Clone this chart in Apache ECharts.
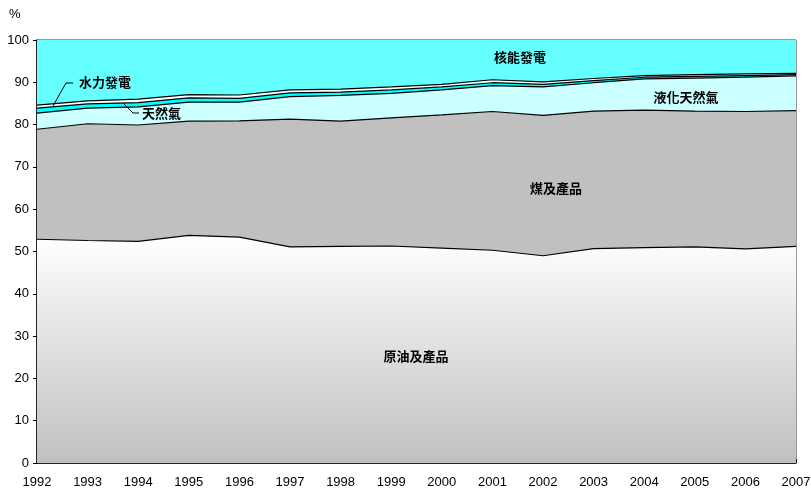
<!DOCTYPE html>
<html><head><meta charset="utf-8">
<script src="https://cdn.jsdelivr.net/npm/echarts@6/dist/echarts.min.js"></script>
<style>html,body{margin:0;padding:0;background:#fff}#c{width:811px;height:488px}</style>
</head><body><div id="c"></div>
<script>
var years = ['1992','1993','1994','1995','1996','1997','1998','1999','2000','2001','2002','2003','2004','2005','2006','2007'];
var oil     = [52.9,52.6,52.4,53.8,53.4,51.1,51.2,51.3,50.8,50.3,49.0,50.7,50.9,51.1,50.6,51.2];
var coal    = [26.0,27.6,27.5,27.0,27.5,30.2,29.6,30.3,31.5,32.8,33.2,32.5,32.5,32.1,32.5,32.1];
var lng     = [3.8,3.7,4.3,4.5,4.4,5.3,6.1,5.8,5.9,6.1,6.7,6.7,7.4,7.8,8.1,8.2];
var gas     = [1.2,1.0,1.0,1.0,0.9,0.9,0.8,0.8,0.7,0.7,0.6,0.5,0.4,0.4,0.4,0.3];
var hydro   = [0.7,0.7,0.8,0.8,0.8,0.7,0.7,0.7,0.6,0.7,0.6,0.5,0.4,0.4,0.4,0.3];
var nuclear = [15.4,14.4,14.0,12.9,13.0,11.8,11.6,11.1,10.5,9.4,9.9,9.1,8.4,8.2,8.0,7.9];
var yTicks = [0,10,20,30,40,50,60,70,80,90,100];

var FONT = '"Liberation Sans", Arial, sans-serif';
var CJK = '"Noto Sans CJK TC", sans-serif';
var chart = echarts.init(document.getElementById('c'), null, {renderer:'canvas'});

function areaSeries(name, data, fill, lw){
  return {
    name: name, type: 'line', stack: 'total', data: data,
    symbol: 'none', smooth: false,
    lineStyle: {color: '#000', width: lw},
    areaStyle: {color: fill, opacity: 1},
    emphasis: {disabled: true}, z: 2
  };
}
var option = {
  animation: false,
  grid: {left: 37, right: 15, top: 40, bottom: 25, show: true, borderColor: '#333', borderWidth: 1,
    containLabel: false, outerBoundsMode: 'none'},
  xAxis: {
    type: 'category', data: years, boundaryGap: false,
    axisLine: {lineStyle: {color: '#000', width: 1.5}},
    axisTick: {inside: true, length: 4, lineStyle: {color: '#000'}},
    axisLabel: {color: '#000', fontFamily: FONT, fontSize: 13, margin: 13, interval: 0},
    splitLine: {show: false}
  },
  yAxis: {
    type: 'value', min: 0, max: 100, interval: 10,
    axisLine: {show: true, lineStyle: {color: '#000', width: 1.5}},
    axisTick: {show: true, length: 4, lineStyle: {color: '#000'}},
    axisLabel: {color: '#000', fontFamily: FONT, fontSize: 13, margin: 8,
      formatter: function(v){ return yTicks.indexOf(v) >= 0 ? String(v) : ''; }},
    splitLine: {show: false}
  },
  series: [
    areaSeries('原油及產品', oil, {type:'linear', x:0, y:0, x2:0, y2:1,
      colorStops:[{offset:0,color:'#ffffff'},{offset:1,color:'#c0c0c0'}]}, 1.2),
    areaSeries('煤及產品', coal, '#c0c0c0', 1.2),
    areaSeries('液化天然氣', lng, '#ccffff', 1.2),
    areaSeries('天然氣', gas, '#00ffff', 1.2),
    areaSeries('水力發電', hydro, '#ffffff', 1.2),
    areaSeries('核能發電', nuclear, '#66ffff', 0)
  ],
  graphic: [
    {type:'text', left: 9, top: 8, style:{text:'%', fill:'#000', font:'13px ' + FONT}},
    {type:'text', x: 520, y: 57, style:{text:'核能發電', fill:'#000', font:'bold 13px ' + CJK, textAlign:'center', textVerticalAlign:'middle'}, z: 10},
    {type:'text', x: 686, y: 97, style:{text:'液化天然氣', fill:'#000', font:'bold 13px ' + CJK, textAlign:'center', textVerticalAlign:'middle'}, z: 10},
    {type:'text', x: 556, y: 188, style:{text:'煤及產品', fill:'#000', font:'bold 13px ' + CJK, textAlign:'center', textVerticalAlign:'middle'}, z: 10},
    {type:'text', x: 416, y: 356, style:{text:'原油及產品', fill:'#000', font:'bold 13px ' + CJK, textAlign:'center', textVerticalAlign:'middle'}, z: 10},
    {type:'text', x: 79, y: 82, style:{text:'水力發電', fill:'#000', font:'bold 13px ' + CJK, textAlign:'left', textVerticalAlign:'middle'}, z: 10},
    {type:'text', x: 142, y: 113, style:{text:'天然氣', fill:'#000', font:'bold 13px ' + CJK, textAlign:'left', textVerticalAlign:'middle'}, z: 10},
    {type:'polyline', shape:{points:[[73,83],[66,83],[53,106]]}, style:{stroke:'#000', lineWidth:1, fill:null}, z: 10},
    {type:'polyline', shape:{points:[[123,103],[133,113],[139,113]]}, style:{stroke:'#000', lineWidth:1, fill:null}, z: 10}
  ]
};
chart.setOption(option);
</script>
</body></html>
